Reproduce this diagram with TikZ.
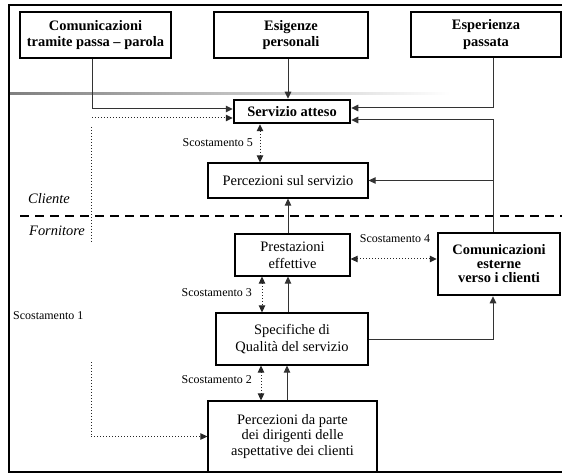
\documentclass[tikz,border=0pt]{standalone}
\usepackage{fontspec}
\setmainfont{Liberation Serif}
\usetikzlibrary{arrows.meta}
\begin{document}
\begin{tikzpicture}[x=1bp,y=-1bp,
  box/.style={draw, line width=1.2bp, inner sep=0pt, align=center, font=\fontsize{14.5}{17}\selectfont},
  bbox/.style={box, line width=2.2bp, font=\bfseries\fontsize{14.5}{17}\selectfont},
  tip/.tip={Triangle[length=7bp,width=6.5bp]},
  arr/.style={draw=black!80, line width=1bp, -tip},
  darr/.style={draw=black!85, dotted, line width=1bp, tip-tip},
  dotarr/.style={draw=black!85, dotted, line width=1bp, -tip},
  dotl/.style={draw=black!85, dotted, line width=1bp},
  lbl/.style={font=\fontsize{12}{14}\selectfont, inner sep=0pt},
  side/.style={font=\itshape\fontsize{14.5}{17}\selectfont, inner sep=0pt}]
\useasboundingbox (0,0) rectangle (562,473);
% frame
\coordinate (f1) at (562,5);
\coordinate (f2) at (9,5);
\coordinate (f3) at (9,472);
\coordinate (f4) at (562,472);
\draw[line width=2.5bp] (f1) -- (f2) -- (f3) -- (f4);
% gray shaded line
\shade[left color=black!50, right color=white, draw=none] (10,92.2) rectangle (450,94.2);
% dashed line
\coordinate (dl1) at (20,216);
\coordinate (dl2) at (562,216);
\draw[line width=2.5bp, dash pattern=on 9bp off 6bp] (dl1) -- (dl2);
% top boxes
\node[bbox, minimum width=151bp, minimum height=46bp] (b1) at (95.5,35) {Comunicazioni\\tramite passa -- parola};
\node[bbox, minimum width=154bp, minimum height=46bp] (b2) at (291,35) {Esigenze\\personali};
\node[bbox, minimum width=150bp, minimum height=45bp] (b3) at (486,34.5) {Esperienza\\passata};
% middle boxes
\node[bbox, line width=2.5bp, minimum width=116bp, minimum height=23bp] (sa) at (292,111.5) {Servizio atteso};
\node[box, minimum width=160bp, minimum height=35bp] (ps) at (288,180.5) {Percezioni sul servizio};
\node[box, minimum width=115bp, minimum height=42bp] (pe) at (292.5,255) {Prestazioni\\effettive};
\node[bbox, line width=2.5bp, minimum width=122bp, minimum height=62bp, font=\bfseries\fontsize{14.5}{14}\selectfont] (ce) at (499,264) {Comunicazioni\\esterne\\verso i clienti};
\node[box, minimum width=152bp, minimum height=52bp] (sq) at (292,339) {Specifiche di\\Qualità del servizio};
\node[box, minimum width=169bp, minimum height=71bp, font=\fontsize{14.5}{16}\selectfont] (dir) at (292.5,436.5) {Percezioni da parte\\dei dirigenti delle\\aspettative dei clienti};
% side labels
\node[side] (cl) at (49,199) {Cliente};
\node[side] (fo) at (57,231) {Fornitore};
% helper coordinates
\coordinate (x92) at (92,0);
\coordinate (x288) at (288,0);
\coordinate (x493) at (493,0);
\coordinate (x260) at (260,0);
\coordinate (x262) at (262,0);
\coordinate (x261) at (261,0);
\coordinate (x287) at (287,0);
\coordinate (y259) at (0,259);
% connectors to Servizio atteso
\draw[arr] (b1.south -| x92) |- ([yshift=2.5bp]sa.west);
\coordinate (d1) at (92,118);
\draw[dotarr] (d1) -- (sa.west |- d1);
\draw[arr] (b2.south -| x288) -- (sa.north -| x288);
\draw[arr] (b3.south -| x493) |- ([yshift=3.5bp]sa.east);
\draw[arr] (ce.north -| x493) |- ([yshift=-8.5bp]sa.east);
\draw[arr] (x493 |- ps.east) -- (ps.east);
% scostamento 5
\draw[darr] (sa.south -| x260) -- (ps.north -| x260);
\node[lbl, anchor=east] (l5) at (253,143) {Scostamento 5};
% prestazioni -> percezioni
\draw[arr] (pe.north -| x288) -- (ps.south -| x288);
% scostamento 4
\draw[darr] (pe.east |- y259) -- (ce.west |- y259);
\node[lbl] (l4) at (395,239) {Scostamento 4};
% scostamento 3
\draw[darr] (pe.south -| x262) -- (sq.north -| x262);
\node[lbl, anchor=east] (l3) at (252,293) {Scostamento 3};
\draw[arr] (sq.north -| x288) -- (pe.south -| x288);
% specifiche -> comunicazioni esterne
\draw[arr] (sq.east) -| (ce.south -| x493);
% scostamento 2
\draw[darr] (sq.south -| x261) -- (dir.north -| x261);
\node[lbl, anchor=east] (l2) at (252,380) {Scostamento 2};
\draw[arr] (dir.north -| x287) -- (sq.south -| x287);
% scostamento 1
\coordinate (s1a) at (91,127);
\coordinate (s1c) at (91,243);
\coordinate (s1b) at (91,362);
\draw[dotl] (s1a) -- (s1c);
\draw[dotarr] (s1b) |- (dir.west);
\node[lbl, anchor=west] (l1) at (13,316) {Scostamento 1};
\end{tikzpicture}
\end{document}
